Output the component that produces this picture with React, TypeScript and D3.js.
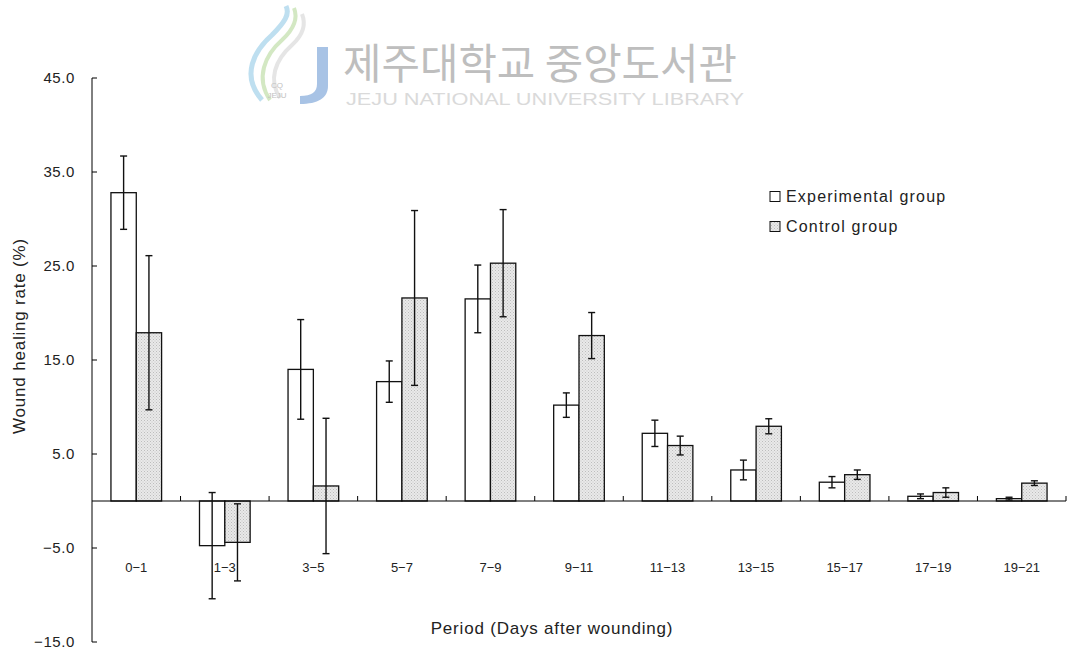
import React from "react";
import * as d3 from "d3";

const categories = ["0−1", "1−3", "3−5", "5−7", "7−9", "9−11", "11−13", "13−15", "15−17", "17−19", "19−21"];
const experimental = [32.8, -4.75, 14.0, 12.7, 21.5, 10.2, 7.2, 3.3, 2.0, 0.5, 0.25];
const experimentalErr = [3.9, 5.65, 5.3, 2.2, 3.6, 1.3, 1.4, 1.05, 0.6, 0.25, 0.15];
const control = [17.9, -4.4, 1.6, 21.6, 25.3, 17.6, 5.9, 7.95, 2.8, 0.9, 1.9];
const controlErr = [8.2, 4.1, 7.2, 9.3, 5.7, 2.45, 1.0, 0.8, 0.5, 0.5, 0.25];
const yTicks = [-15, -5, 5, 15, 25, 35, 45];
const seriesNames = ["Experimental group", "Control group"];

const W = 1069;
const H = 650;
const font = "'Liberation Sans', Arial, sans-serif";
const textColor = "#222";

export default function App() {
  const x = d3.scaleBand<string>().domain(categories).range([92, 1066]).padding(0);
  const y = d3.scaleLinear().domain([-15, 45]).range([642, 78]);
  const bw = x.bandwidth() * 0.286;
  const fmt = (v: number) => (v < 0 ? "−" + Math.abs(v).toFixed(1) : v.toFixed(1));

  const series = [
    { vals: experimental, errs: experimentalErr, fill: "#ffffff", off: -bw },
    { vals: control, errs: controlErr, fill: "url(#stipple)", off: 0 },
  ];

  return (
    <svg width={W} height={H} style={{ position: "absolute", left: 0, top: 0, background: "#fff" }}>
      <defs>
        <pattern id="stipple" width="3" height="3" patternUnits="userSpaceOnUse">
          <rect width="3" height="3" fill="#e9e9e9" />
          <rect x="0" y="0" width="1" height="1" fill="#bdbdbd" />
          <rect x="1.5" y="1.5" width="1" height="1" fill="#c8c8c8" />
        </pattern>
      </defs>
      <rect width={W} height={H} fill="#fff" />

      {/* watermark */}
      <g opacity={0.9}>
        <path d="M262,100 C240,75 255,50 272,35 C285,22 290,14 286,6" fill="none" stroke="#b8dcef" strokeWidth={5} />
        <path d="M270,100 C255,78 265,55 282,40 C295,28 298,18 294,8" fill="none" stroke="#cfe6bd" strokeWidth={4} />
        <path d="M280,98 C268,80 275,60 292,45 C303,35 306,24 302,14" fill="none" stroke="#e3e3e3" strokeWidth={4} />
        <path d="M317,47 L328,47 L328,86 C328,98 318,104 300,104 L300,96 C312,96 317,92 317,84 Z" fill="#9fbde3" />
        <text x={277} y={88} fontSize={8} fill="#bbb" fontFamily={font} textAnchor="middle">CQ</text>
        <text x={277} y={98} fontSize={8} fill="#bbb" fontFamily={font} textAnchor="middle">JEJU</text>
        <text x={343} y={79} fontSize={42} fill="#b7b7b7" fontFamily="'Noto Sans CJK KR', sans-serif" textLength={394} lengthAdjust="spacingAndGlyphs">제주대학교 중앙도서관</text>
        <text x={346} y={105} fontSize={16} fill="#d6d6d6" fontFamily={font} textLength={398} lengthAdjust="spacingAndGlyphs">JEJU NATIONAL UNIVERSITY  LIBRARY</text>
      </g>

      {/* y axis */}
      <line x1={92} x2={92} y1={y(45)} y2={y(-15)} stroke="#000" strokeWidth={1} />
      {yTicks.map((t) => (
        <g key={t}>
          <line x1={92} x2={97} y1={y(t)} y2={y(t)} stroke="#000" strokeWidth={1} />
          <text x={75} y={y(t)} dy="0.35em" textAnchor="end" fontSize={15} letterSpacing={0.6} fill={textColor} fontFamily={font}>{fmt(t)}</text>
        </g>
      ))}

      {/* bars */}
      {series.map((s, si) =>
        categories.map((c, i) => {
          const cx = (x(c) as number) + x.bandwidth() / 2;
          const v = s.vals[i];
          const y0 = y(0);
          const yv = y(v);
          return (
            <rect key={si + "-" + c} x={cx + s.off} width={bw} y={Math.min(y0, yv)} height={Math.abs(y0 - yv)} fill={s.fill} stroke="#111" strokeWidth={1.3} />
          );
        })
      )}

      {/* x axis */}
      <line x1={92} x2={1066} y1={y(0)} y2={y(0)} stroke="#000" strokeWidth={1} />
      {categories.map((c) => (
        <line key={"t" + c} x1={(x(c) as number) + x.bandwidth()} x2={(x(c) as number) + x.bandwidth()} y1={y(0)} y2={y(0) - 5} stroke="#000" strokeWidth={1} />
      ))}

      {/* error bars */}
      {series.map((s, si) =>
        categories.map((c, i) => {
          const cx = (x(c) as number) + x.bandwidth() / 2 + s.off + bw / 2;
          const top = y(s.vals[i] + s.errs[i]);
          const bot = y(s.vals[i] - s.errs[i]);
          return (
            <g key={"e" + si + c} stroke="#111" strokeWidth={1.4}>
              <line x1={cx} x2={cx} y1={top} y2={bot} />
              <line x1={cx - 3.5} x2={cx + 3.5} y1={top} y2={top} />
              <line x1={cx - 3.5} x2={cx + 3.5} y1={bot} y2={bot} />
            </g>
          );
        })
      )}

      {/* category labels */}
      {categories.map((c) => (
        <text key={"l" + c} x={(x(c) as number) + x.bandwidth() / 2} y={567} dy="0.35em" textAnchor="middle" fontSize={13} fill={textColor} fontFamily={font}>{c}</text>
      ))}

      {/* axis titles */}
      <text x={552} y={628} dy="0.35em" textAnchor="middle" fontSize={17} letterSpacing={0.8} fill={textColor} fontFamily={font}>Period (Days after wounding)</text>
      <text transform={`translate(19,${336}) rotate(-90)`} dy="0.35em" textAnchor="middle" fontSize={17} letterSpacing={0.8} fill={textColor} fontFamily={font}>Wound healing rate (%)</text>

      {/* legend */}
      {seriesNames.map((n, i) => (
        <g key={n}>
          <rect x={770} y={191.5 + i * 30} width={10} height={10} fill={i === 0 ? "#fff" : "url(#stipple)"} stroke="#111" strokeWidth={1} />
          <text x={786} y={196.5 + i * 30} dy="0.35em" fontSize={16} letterSpacing={1.2} fill={textColor} fontFamily={font}>{n}</text>
        </g>
      ))}
    </svg>
  );
}
